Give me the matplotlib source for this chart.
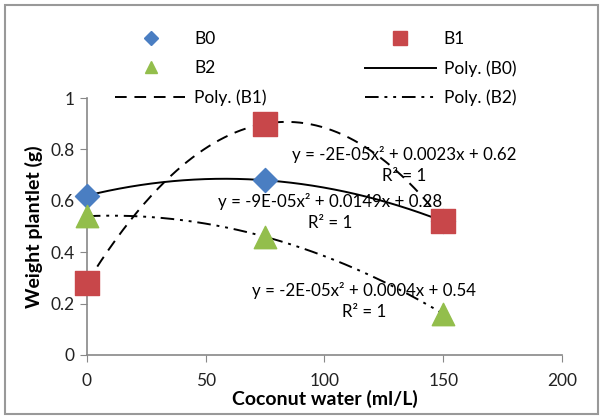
import numpy as np
import matplotlib
matplotlib.use("Agg")
import matplotlib.pyplot as plt
from matplotlib.patches import Rectangle
from matplotlib.lines import Line2D

plt.rcParams["font.family"] = ["Lato", "DejaVu Sans"]

# ── Data ───────────────────────────────────────────────
coconut = [0, 75, 150]
b0 = [0.62, 0.68, 0.52]
b1 = [0.28, 0.90, 0.52]
b2 = [0.54, 0.46, 0.16]

eq_b0 = "y = -2E-05x² + 0.0023x + 0.62\nR² = 1"
eq_b1 = "y = -9E-05x² + 0.0149x + 0.28\nR² = 1"
eq_b2 = "y = -2E-05x² + 0.0004x + 0.54\nR² = 1"
# ───────────────────────────────────────────────────────

BLUE, RED, GREEN = "#4A7EC2", "#C8474A", "#93BE4C"
DASH = (0, (6, 4))
DASHDOT = (0, (7, 3, 1.5, 3, 1.5, 3))

fig = plt.figure(figsize=(6.03, 4.19), dpi=100)
ax = fig.add_axes([0.144, 0.153, 0.788, 0.613])

# quadratic trendlines through each series
xs = np.linspace(0, 150, 200)
for ys, ls in [(b0, "-"), (b1, DASH), (b2, DASHDOT)]:
    coef = np.polyfit(coconut, ys, 2)
    ax.plot(xs, np.polyval(coef, xs), color="black", lw=1.4, ls=ls, zorder=2)

ax.scatter(coconut, b0, marker="D", s=150, color=BLUE, zorder=3, clip_on=False)
ax.scatter(coconut, b1, marker="s", s=300, color=RED, zorder=3, clip_on=False)
ax.scatter(coconut, b2, marker="^", s=260, color=GREEN, zorder=3, clip_on=False)

eq_style = dict(ha="center", va="center", fontsize=12.2, linespacing=1.4, zorder=4)
ax.text(133.5, 0.74, eq_b0, **eq_style)
ax.text(102.3, 0.555, eq_b1, **eq_style)
ax.text(116.6, 0.21, eq_b2, **eq_style)

ax.set_xlim(0, 200)
ax.set_ylim(0, 1)
ax.set_xticks([0, 50, 100, 150, 200])
ax.set_yticks([0, 0.2, 0.4, 0.6, 0.8, 1])
ax.set_yticklabels(["0", "0.2", "0.4", "0.6", "0.8", "1"])
ax.tick_params(direction="out", length=5, color="#888888", labelsize=12.5, pad=4,
               labelcolor="#222222")
ax.tick_params(axis="x", pad=8)
for side in ["top", "right"]:
    ax.spines[side].set_visible(False)
for side in ["left", "bottom"]:
    ax.spines[side].set_color("#888888")
    ax.spines[side].set_linewidth(1.2)

ax.set_xlabel("Coconut water (ml/L)", fontsize=14, fontweight="bold", labelpad=1)
ax.set_ylabel("Weight plantlet (g)", fontsize=14, fontweight="bold", labelpad=5)

handles = [
    Line2D([], [], ls="none", marker="D", ms=7, color=BLUE),
    Line2D([], [], ls="none", marker="^", ms=9, color=GREEN),
    Line2D([], [], color="black", lw=1.4, ls=DASH),
    Line2D([], [], ls="none", marker="s", ms=10, color=RED),
    Line2D([], [], color="black", lw=1.4, ls="-"),
    Line2D([], [], color="black", lw=1.4, ls=DASHDOT),
]
labels = ["B0", "B2", "Poly. (B1)", "B1", "Poly. (B0)", "Poly. (B2)"]
fig.legend(handles, labels, ncol=2, loc="upper left",
           bbox_to_anchor=(115 / 603, 1 - 31 / 419), borderaxespad=0, borderpad=0,
           frameon=False, fontsize=12.5, handlelength=4.1, labelspacing=0.75,
           handletextpad=0.45, columnspacing=5.65)

fig.patches.append(Rectangle((0.008, 0.012), 0.984, 0.976, transform=fig.transFigure,
                             fill=False, edgecolor="#999999", lw=1.5))

fig.savefig("out.png", dpi=100)
